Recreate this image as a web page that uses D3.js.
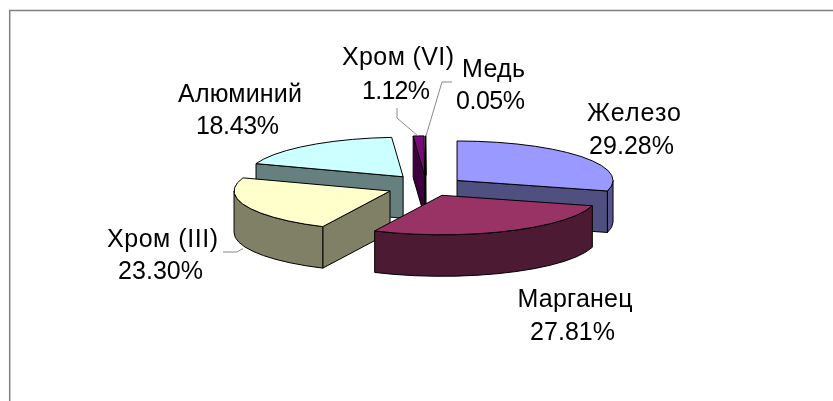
<!DOCTYPE html>
<html><head><meta charset="utf-8">
<script src="https://cdnjs.cloudflare.com/ajax/libs/d3/7.8.5/d3.min.js"></script>
<style>html,body{margin:0;padding:0;background:#fff}svg{display:block;filter:blur(0.35px)}
text{font-family:"Liberation Sans",Arial,sans-serif;font-size:25px;fill:#000}</style>
</head><body><svg id="c" width="833" height="401"></svg>
<script>
const names = ["Железо","Марганец","Хром (III)","Алюминий","Хром (VI)","Медь"];
const shares = [29.28,27.81,23.30,18.43,1.12,0.05];
const labels = ["29.28%","27.81%","23.30%","18.43%","1.12%","0.05%"];
const topColors = ["#9999ff","#993366","#ffffcc","#ccffff","#7a0a7a","#ff8080"];
const wallColors = ["#4f4f80","#4d1a33","#808066","#668080","#3d003d","#804040"];
const rimColors = ["#55558c","#4d1a33","#808066","#668080","#3d003d","#804040"];

const W=833,H=401, cx=426, cy=186, rx=156, ry=39.5, depth=41.5, explode=36;
const nudges=[[2.4,0],[1,1],[-2.7,1.5],[-1,-2],[0,-1.5],[0,-1.5]];
const namePos=[[634,121],[575,307],[162.5,247],[240,102],[398,65],[493.5,77]];
const valuePos=[[631.5,154],[572.5,340],[160.5,279],[237.5,134],[396,99],[490.5,109]];
const nameWidths=[94,115,111,124,112,63];
const valueWidths=[85,85,85,83,68,69];
const leaders=[null,null,[[223,252],[237,252],[243,248.5]],null,[[397,108],[397,118],[418,136]],[[452,82],[442,82],[426,136]]];

const svg=d3.select("#c");
svg.append("path").attr("d",`M9.7,${H}V10.5H${W}`).attr("fill","none").attr("stroke","#808080").attr("stroke-width",1.5);

const pie=d3.pie().sort(null).value(d=>d)(shares);
const px=a=>rx*Math.sin(a), py=a=>-ry*Math.cos(a);
const line=d3.line();
const slices=pie.map((s,i)=>{
  const mid=(s.startAngle+s.endAngle)/2;
  return {...s,i,ax:cx+explode*Math.sin(mid)+nudges[i][0],ay:cy-explode*ry/rx*Math.cos(mid)+nudges[i][1]};
});
function arcPts(s,a0,a1,dy=0){
  const n=Math.max(2,Math.ceil((a1-a0)/0.14));
  return d3.range(n+1).map(k=>{const a=a0+(a1-a0)*k/n;return [s.ax+px(a),s.ay+py(a)+dy];});
}
const g=svg.append("g").attr("stroke","#000").attr("stroke-width",1).attr("stroke-linejoin","round");
function drawSlice(s){
  const a0=s.startAngle,a1=s.endAngle,i=s.i;
  const P=a=>[s.ax+px(a),s.ay+py(a)];
  const wall=a=>{const p=P(a);return [[s.ax,s.ay],p,[p[0],p[1]+depth],[s.ax,s.ay+depth]];};
  if(Math.cos(a0-Math.PI/2)<0) g.append("path").attr("d",line(wall(a0))+"Z").attr("fill",wallColors[i]);
  if(Math.cos(a1+Math.PI/2)<0) g.append("path").attr("d",line(wall(a1))+"Z").attr("fill",wallColors[i]);
  const r0=Math.max(a0,Math.PI/2),r1=Math.min(a1,3*Math.PI/2);
  if(r1>r0){
    const top=arcPts(s,r0,r1),bot=arcPts(s,r0,r1,depth).reverse();
    g.append("path").attr("d",line(top.concat(bot))+"Z").attr("fill",rimColors[i]);
  }
  g.append("path").attr("d",line([[s.ax,s.ay]].concat(arcPts(s,a0,a1)))+"Z").attr("fill",topColors[i]);
}
[5,4,3,0,2,1].forEach(i=>drawSlice(slices[i]));

leaders.forEach(l=>{ if(l) svg.append("path").attr("d",line(l)).attr("fill","none").attr("stroke","#888").attr("stroke-width",1); });
names.forEach((n,i)=>{
  svg.append("text").attr("x",namePos[i][0]).attr("y",namePos[i][1]).attr("text-anchor","middle")
    .attr("textLength",nameWidths[i]).attr("lengthAdjust","spacing").text(n);
  svg.append("text").attr("x",valuePos[i][0]).attr("y",valuePos[i][1]).attr("text-anchor","middle")
    .attr("textLength",valueWidths[i]).attr("lengthAdjust","spacing").text(labels[i]);
});
</script></body></html>
